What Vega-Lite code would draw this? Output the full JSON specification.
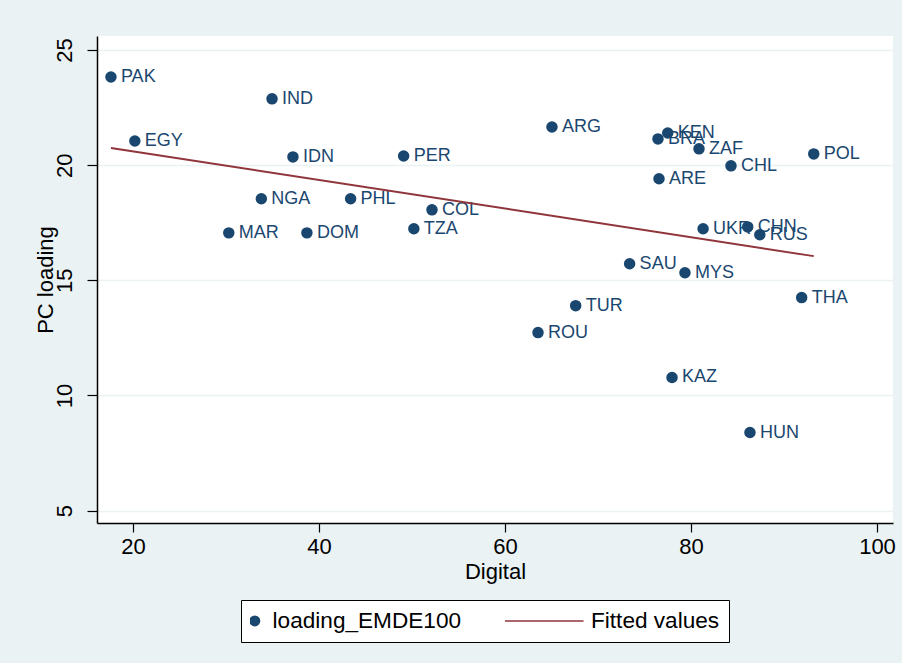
{
  "$schema": "https://vega.github.io/schema/vega-lite/v6.json",
  "width": 796,
  "height": 487,
  "autosize": {"type": "none"},
  "padding": {"left": 97, "top": 36, "right": 9, "bottom": 140},
  "background": "#EAF2F3",
  "config": {
    "view": {"fill": "white", "stroke": null},
    "font": "Liberation Sans",
    "axis": {
      "domainColor": "black",
      "domainWidth": 1.5,
      "tickColor": "black",
      "tickWidth": 1.2,
      "labelColor": "black",
      "titleColor": "black",
      "labelFontSize": 22,
      "titleFontSize": 22,
      "titleFontWeight": "normal",
      "labelFont": "Liberation Sans",
      "titleFont": "Liberation Sans"
    },
    "legend": {
      "orient": "none",
      "legendX": 144,
      "legendY": 564,
      "direction": "horizontal",
      "strokeColor": "black",
      "fillColor": "white",
      "padding": 9,
      "labelFontSize": 22.6,
      "labelColor": "black",
      "labelFont": "Liberation Sans",
      "labelLimit": 400,
      "labelOffset": 6.5,
      "symbolOffset": -6.5,
      "columnPadding": 43,
      "clipHeight": 23,
      "symbolStrokeWidth": 1.5,
      "symbolOpacity": 1
    }
  },
  "datasets": {
    "points": [
      {"country": "PAK", "digital": 17.63, "loading": 23.83, "series": "loading_EMDE100"},
      {"country": "EGY", "digital": 20.2, "loading": 21.05, "series": "loading_EMDE100"},
      {"country": "IND", "digital": 34.95, "loading": 22.88, "series": "loading_EMDE100"},
      {"country": "IDN", "digital": 37.2, "loading": 20.36, "series": "loading_EMDE100"},
      {"country": "PER", "digital": 49.1, "loading": 20.4, "series": "loading_EMDE100"},
      {"country": "NGA", "digital": 33.8, "loading": 18.54, "series": "loading_EMDE100"},
      {"country": "PHL", "digital": 43.4, "loading": 18.54, "series": "loading_EMDE100"},
      {"country": "COL", "digital": 52.15, "loading": 18.06, "series": "loading_EMDE100"},
      {"country": "MAR", "digital": 30.3, "loading": 17.06, "series": "loading_EMDE100"},
      {"country": "DOM", "digital": 38.7, "loading": 17.06, "series": "loading_EMDE100"},
      {"country": "TZA", "digital": 50.2, "loading": 17.24, "series": "loading_EMDE100"},
      {"country": "ARG", "digital": 65.05, "loading": 21.66, "series": "loading_EMDE100"},
      {"country": "KEN", "digital": 77.5, "loading": 21.4, "series": "loading_EMDE100"},
      {"country": "BRA", "digital": 76.45, "loading": 21.14, "series": "loading_EMDE100"},
      {"country": "ZAF", "digital": 80.86, "loading": 20.71, "series": "loading_EMDE100"},
      {"country": "CHL", "digital": 84.3, "loading": 19.97, "series": "loading_EMDE100"},
      {"country": "ARE", "digital": 76.56, "loading": 19.41, "series": "loading_EMDE100"},
      {"country": "POL", "digital": 93.2, "loading": 20.49, "series": "loading_EMDE100"},
      {"country": "UKR", "digital": 81.3, "loading": 17.24, "series": "loading_EMDE100"},
      {"country": "CHN", "digital": 86.1, "loading": 17.32, "series": "loading_EMDE100"},
      {"country": "RUS", "digital": 87.4, "loading": 16.98, "series": "loading_EMDE100"},
      {"country": "SAU", "digital": 73.4, "loading": 15.72, "series": "loading_EMDE100"},
      {"country": "MYS", "digital": 79.35, "loading": 15.33, "series": "loading_EMDE100"},
      {"country": "THA", "digital": 91.9, "loading": 14.25, "series": "loading_EMDE100"},
      {"country": "TUR", "digital": 67.6, "loading": 13.9, "series": "loading_EMDE100"},
      {"country": "ROU", "digital": 63.55, "loading": 12.73, "series": "loading_EMDE100"},
      {"country": "KAZ", "digital": 77.96, "loading": 10.78, "series": "loading_EMDE100"},
      {"country": "HUN", "digital": 86.34, "loading": 8.39, "series": "loading_EMDE100"}
    ],
    "fit": [
      {"digital": 17.63, "fitted": 20.75},
      {"digital": 93.2, "fitted": 16.05}
    ]
  },
  "layer": [
    {
      "data": {"name": "points"},
      "mark": {"type": "point", "filled": true, "opacity": 1, "strokeWidth": 2},
      "encoding": {
        "x": {
          "field": "digital", "type": "quantitative",
          "scale": {"domain": [16.13, 101.72], "nice": false, "zero": false},
          "axis": {"title": "Digital", "values": [20, 40, 60, 80, 100], "grid": false, "tickSize": 9, "labelPadding": 4, "titlePadding": 4}
        },
        "y": {
          "field": "loading", "type": "quantitative",
          "scale": {"domain": [4.46, 25.61], "nice": false, "zero": false},
          "axis": {"title": "PC loading", "values": [5, 10, 15, 20, 25], "grid": true, "gridColor": "#EAF2F3", "gridWidth": 1.5, "tickSize": 10, "labelAngle": -90, "labelAlign": "center", "labelBaseline": "bottom", "labelPadding": 11, "titlePadding": -4}
        },
        "fill": {
          "field": "series", "type": "nominal",
          "scale": {"domain": ["loading_EMDE100", "Fitted values"], "range": ["#1a476f", "#90353b"]},
          "legend": {"title": null}
        },
        "stroke": {
          "field": "series", "type": "nominal",
          "scale": {"domain": ["loading_EMDE100", "Fitted values"], "range": ["#1a476f", "#90353b"]},
          "legend": {"title": null}
        },
        "shape": {
          "field": "series", "type": "nominal",
          "scale": {"domain": ["loading_EMDE100", "Fitted values"], "range": ["circle", "stroke"]},
          "legend": {"title": null}
        },
        "size": {
          "field": "series", "type": "nominal",
          "scale": {"domain": ["loading_EMDE100", "Fitted values"], "range": [90, 7056]},
          "legend": {"title": null}
        }
      }
    },
    {
      "data": {"name": "points"},
      "mark": {"type": "text", "align": "left", "baseline": "middle", "dx": 10, "fontSize": 18, "color": "#1a476f", "font": "Liberation Sans"},
      "encoding": {
        "x": {"field": "digital", "type": "quantitative"},
        "y": {"field": "loading", "type": "quantitative"},
        "text": {"field": "country"}
      }
    },
    {
      "data": {"name": "fit"},
      "mark": {"type": "line", "color": "#90353b", "strokeWidth": 2},
      "encoding": {
        "x": {"field": "digital", "type": "quantitative"},
        "y": {"field": "fitted", "type": "quantitative"}
      }
    }
  ]
}
